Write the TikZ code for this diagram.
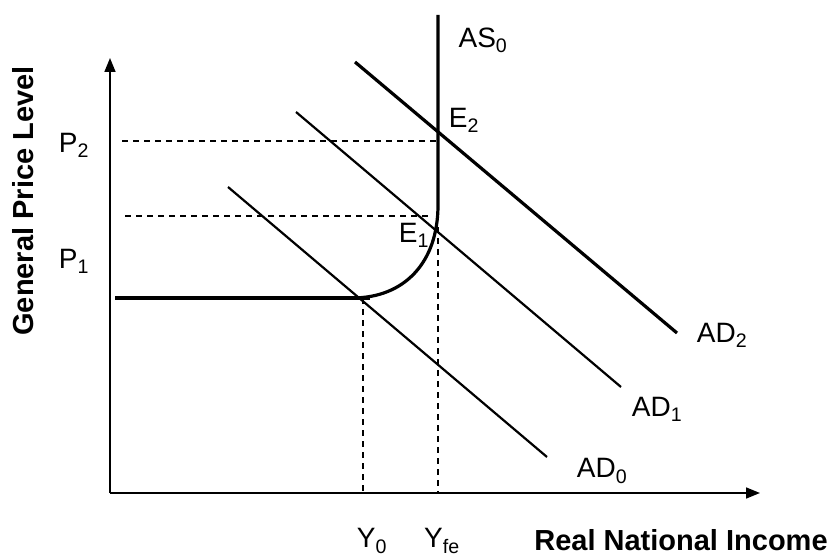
\documentclass[tikz,border=0pt]{standalone}
\usepackage{fontspec}
\setmainfont{Liberation Sans}
\usetikzlibrary{arrows.meta}
\begin{document}
\begin{tikzpicture}[x=1pt,y=-1pt,
  lbl/.style={font=\fontsize{28}{32}\selectfont, inner sep=0pt},
  axlbl/.style={font=\fontsize{29}{33}\selectfont\bfseries, inner sep=0pt},
  axis/.style={line width=1.6pt, -{Triangle[length=14pt,width=11pt]}},
  curve/.style={line width=3.2pt},
  adline/.style={line width=2.2pt},
  guide/.style={line width=1.3pt, dash pattern=on 6pt off 5pt}]
\useasboundingbox (0,0) rectangle (830,556);
% axes
\coordinate (O) at (110,493);
\coordinate (ytop) at (110,58);
\coordinate (xend) at (760,493);
\draw[axis] (O) -- (ytop);
\draw[axis] (O) -- (xend);
% AS curve
\coordinate (hs) at (115,298);
\coordinate (he) at (370,298);
\coordinate (cs) at (352,298);
\coordinate (vt) at (438,205);
\coordinate (top) at (438,15);
\draw[curve] (hs) -- (he);
\draw[curve] (cs) .. controls (405,298) and (438,262) .. (vt) -- (top);
% AD lines
\coordinate (a0s) at (228,187); \coordinate (a0e) at (547,457);
\coordinate (a1s) at (296,112); \coordinate (a1e) at (621,387);
\coordinate (a2s) at (355,62);  \coordinate (a2e) at (677,333);
\draw[adline] (a0s) -- (a0e);
\draw[adline] (a1s) -- (a1e);
\draw[curve] (a2s) -- (a2e);
% guides
\coordinate (p2l) at (122,141); \coordinate (p2r) at (438,141);
\coordinate (p1l) at (125,216); \coordinate (p1r) at (430,216);
\coordinate (y0t) at (363,298); \coordinate (y0b) at (363,493);
\coordinate (yft) at (438,227); \coordinate (yfb) at (438,493);
\draw[guide] (p2l) -- (p2r);
\draw[guide] (p1l) -- (p1r);
\draw[guide] (y0t) -- (y0b);
\draw[guide] (yft) -- (yfb);
% labels
\node[lbl] (AS) at (483,40) {AS\textsubscript{0}};
\node[lbl] (E2) at (464,120) {E\textsubscript{2}};
\node[lbl] (E1) at (414,235) {E\textsubscript{1}};
\node[lbl] (P2) at (74,145) {P\textsubscript{2}};
\node[lbl] (P1) at (74,261) {P\textsubscript{1}};
\node[lbl] (AD2) at (722,335) {AD\textsubscript{2}};
\node[lbl] (AD1) at (657,409) {AD\textsubscript{1}};
\node[lbl] (AD0) at (602,471) {AD\textsubscript{0}};
\node[lbl] (Y0) at (372,541) {Y\textsubscript{0}};
\node[lbl] (Yfe) at (442,541) {Y\textsubscript{fe}};
\node[axlbl] (RNI) at (681,540) {Real National Income};
\node[axlbl, rotate=90] (GPL) at (23,201) {General Price Level};
\end{tikzpicture}
\end{document}
